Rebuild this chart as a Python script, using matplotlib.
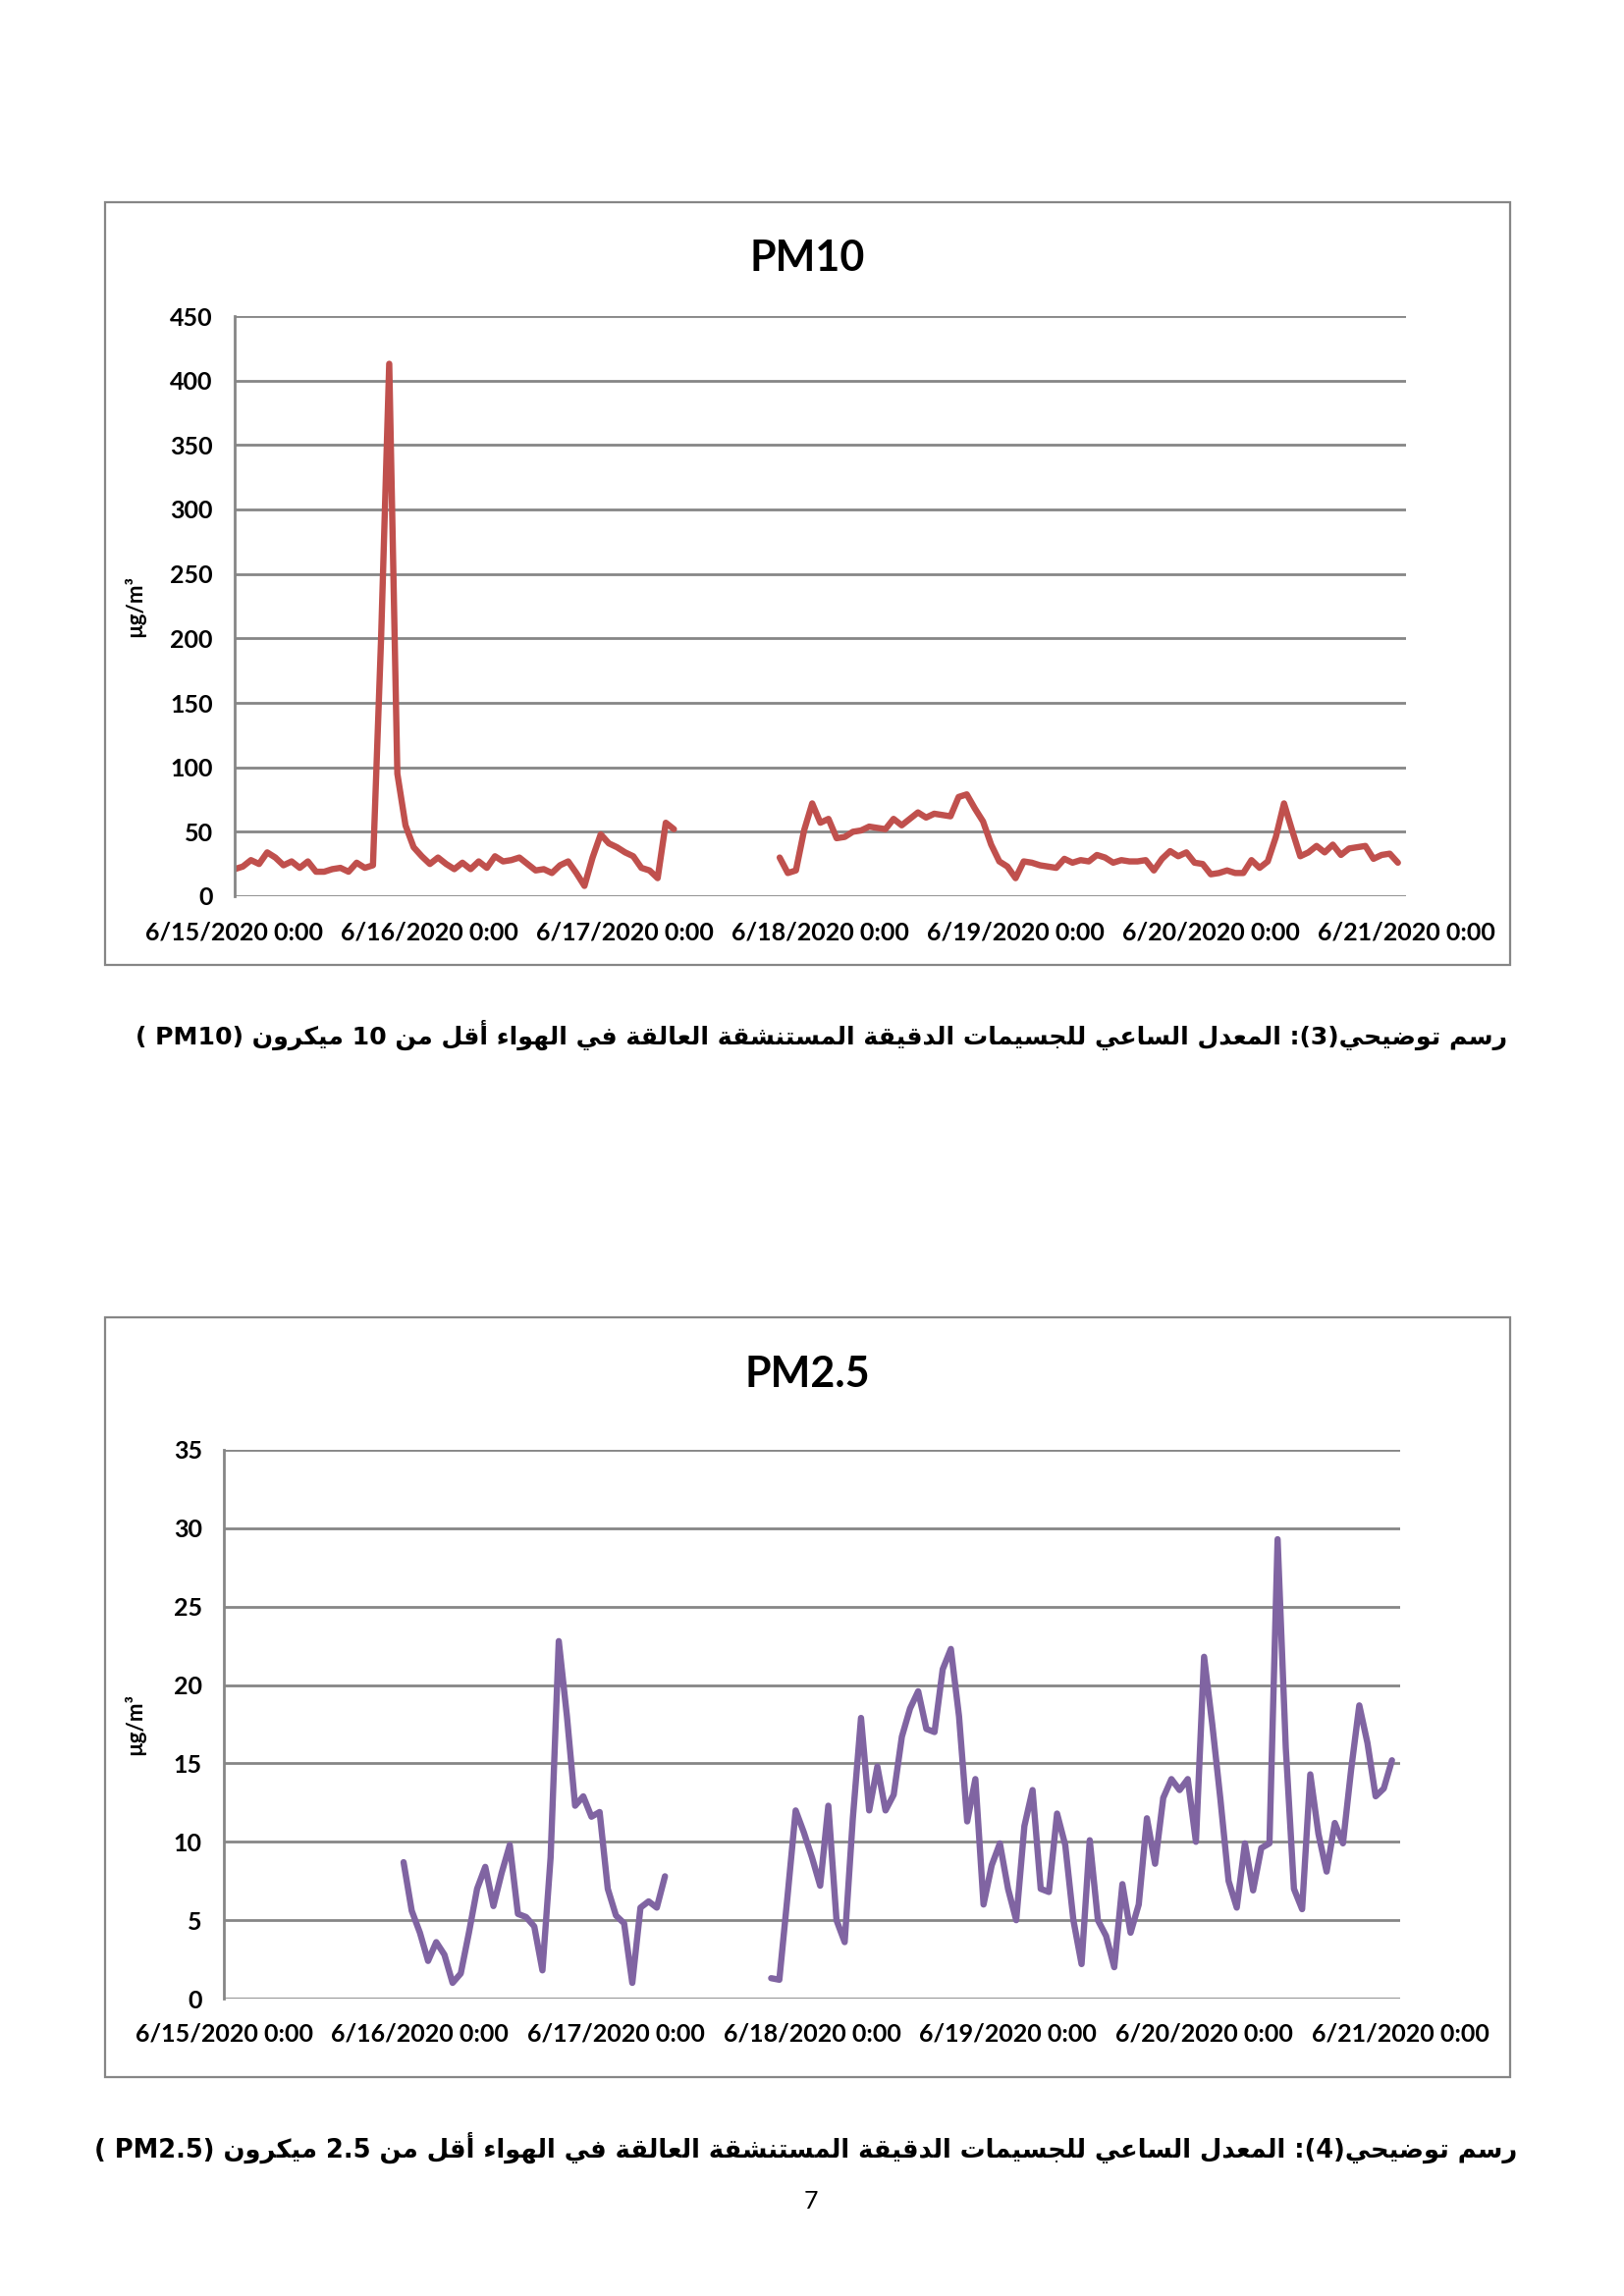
import numpy as np
import pandas as pd
import matplotlib
matplotlib.use('Agg')
from matplotlib import pyplot as plt
from matplotlib.patches import Rectangle

nan = np.nan

# hourly values, 6/15/2020 0:00 .. 6/20/2020 23:00
pm10 = [21, 23, 28, 25, 34, 30, 24, 27, 22, 27, 19, 19, 21, 22, 19, 26, 22, 24,
        200, 413, 95, 55, 38, 31,
        25, 30, 25, 21, 26, 21, 27, 22, 31, 27, 28, 30, 25, 20, 21, 18, 24, 27,
        18, 8, 30, 48, 41, 38,
        34, 31, 22, 20, 14, 57, 52, nan, nan, nan, nan, nan, nan, nan, nan, nan,
        nan, nan, nan, 30, 18, 20, 51, 72,
        57, 60, 45, 46, 50, 51, 54, 53, 52, 60, 55, 60, 65, 61, 64, 63, 62, 77,
        79, 68, 58, 40, 27, 23,
        14, 27, 26, 24, 23, 22, 29, 26, 28, 27, 32, 30, 26, 28, 27, 27, 28, 20,
        29, 35, 31, 34, 26, 25,
        17, 18, 20, 18, 18, 28, 22, 27, 46, 72, 51, 31, 34, 39, 34, 40, 32, 37,
        38, 39, 29, 32, 33, 26]

pm25 = [nan] * 22 + [
        8.7, 5.6,
        4.2, 2.4, 3.6, 2.8, 1.0, 1.6, 4.2, 7.0, 8.4, 5.9, 8.0, 9.8, 5.4, 5.2,
        4.6, 1.8, 9.0, 22.8, 18.0, 12.3, 12.9, 11.6, 11.9, 7.0,
        5.3, 4.8, 1.0, 5.8, 6.2, 5.8, 7.8, nan, nan, nan, nan, nan, nan, nan,
        nan, nan, nan, nan, nan, 1.3, 1.2, 6.5, 12.0, 10.6,
        9.0, 7.2, 12.3, 5.0, 3.6, 11.5, 17.9, 12.0, 14.8, 12.0, 13.0, 16.7,
        18.5, 19.6, 17.2, 17.0, 21.0, 22.3, 18.0, 11.3, 14.0, 6.0, 8.5, 9.9,
        7.0, 5.0, 11.0, 13.3, 7.0, 6.8, 11.8, 9.8, 5.0, 2.2, 10.1, 5.0,
        4.0, 2.0, 7.3, 4.2, 6.0, 11.5, 8.6, 12.8, 14.0, 13.3, 14.0, 10.0,
        21.8, 17.5, 12.7, 7.5, 5.8, 9.9, 6.9, 9.6, 9.9, 29.3, 16.0, 7.0,
        5.7, 14.3, 10.5, 8.1, 11.2, 9.9, 14.6, 18.7, 16.3, 12.9, 13.4, 15.2]

day_labels = ['6/15/2020 0:00', '6/16/2020 0:00', '6/17/2020 0:00', '6/18/2020 0:00',
              '6/19/2020 0:00', '6/20/2020 0:00', '6/21/2020 0:00']

caption1 = 'رسم توضيحي(3): المعدل الساعي للجسيمات الدقيقة المستنشقة العالقة في الهواء أقل من 10 ميكرون (PM10 )'
caption2 = 'رسم توضيحي(4): المعدل الساعي للجسيمات الدقيقة المستنشقة العالقة في الهواء أقل من 2.5 ميكرون (PM2.5 )'

# ---- minimal arabic shaping (no reshaper available) ----
FORMS = {
    'ء': ('\uFE80', None, None, None),
    'أ': ('\uFE83', '\uFE84', None, None),
    'ا': ('\uFE8D', '\uFE8E', None, None),
    'ب': ('\uFE8F', '\uFE90', '\uFE91', '\uFE92'),
    'ة': ('\uFE93', '\uFE94', None, None),
    'ت': ('\uFE95', '\uFE96', '\uFE97', '\uFE98'),
    'ج': ('\uFE9D', '\uFE9E', '\uFE9F', '\uFEA0'),
    'ح': ('\uFEA1', '\uFEA2', '\uFEA3', '\uFEA4'),
    'د': ('\uFEA9', '\uFEAA', None, None),
    'ر': ('\uFEAD', '\uFEAE', None, None),
    'س': ('\uFEB1', '\uFEB2', '\uFEB3', '\uFEB4'),
    'ش': ('\uFEB5', '\uFEB6', '\uFEB7', '\uFEB8'),
    'ض': ('\uFEBD', '\uFEBE', '\uFEBF', '\uFEC0'),
    'ع': ('\uFEC9', '\uFECA', '\uFECB', '\uFECC'),
    'ف': ('\uFED1', '\uFED2', '\uFED3', '\uFED4'),
    'ق': ('\uFED5', '\uFED6', '\uFED7', '\uFED8'),
    'ك': ('\uFED9', '\uFEDA', '\uFEDB', '\uFEDC'),
    'ل': ('\uFEDD', '\uFEDE', '\uFEDF', '\uFEE0'),
    'م': ('\uFEE1', '\uFEE2', '\uFEE3', '\uFEE4'),
    'ن': ('\uFEE5', '\uFEE6', '\uFEE7', '\uFEE8'),
    'ه': ('\uFEE9', '\uFEEA', '\uFEEB', '\uFEEC'),
    'و': ('\uFEED', '\uFEEE', None, None),
    'ي': ('\uFEF1', '\uFEF2', '\uFEF3', '\uFEF4'),
}
LAMALEF = {'ا': ('\uFEFB', '\uFEFC'), 'أ': ('\uFEF7', '\uFEF8')}
MIRROR = {'(': ')', ')': '('}


def joins_left(c):
    return c in FORMS and FORMS[c][2] is not None


def shape(text):
    out = []
    i = 0
    while i < len(text):
        c = text[i]
        prev = text[i - 1] if i > 0 else ''
        nxt = text[i + 1] if i + 1 < len(text) else ''
        if c not in FORMS:
            out.append(c)
            i += 1
            continue
        pj = joins_left(prev)
        if c == 'ل' and nxt in LAMALEF:
            out.append(LAMALEF[nxt][1 if pj else 0])
            i += 2
            continue
        nj = joins_left(c) and nxt in FORMS
        iso, fin, ini, med = FORMS[c]
        if pj and nj:
            out.append(med)
        elif pj:
            out.append(fin)
        elif nj:
            out.append(ini)
        else:
            out.append(iso)
        i += 1
    # visual order: reverse, keep latin/digit runs left to right
    rev = ''.join(out)[::-1]
    res, run = [], ''
    for ch in rev:
        if ch.isascii() and (ch.isalnum() or ch == '.'):
            run += ch
        else:
            if run:
                res.append(run[::-1])
                run = ''
            res.append(MIRROR.get(ch, ch))
    if run:
        res.append(run[::-1])
    return ''.join(res)


W, H = 1654, 2339
fig = plt.figure(figsize=(W / 100, H / 100), dpi=100)
fig.patch.set_facecolor('white')

hours = pd.date_range('2020-06-15 00:00', periods=144, freq='h')
days = pd.date_range('2020-06-15', periods=7, freq='D')

grid_c = '#868686'
tick_font = dict(family='Lato', weight='bold', size=18)


def box(x0, y0, x1, y1):
    fig.add_artist(Rectangle((x0 / W, 1 - y1 / H), (x1 - x0) / W, (y1 - y0) / H,
                             transform=fig.transFigure, fill=False,
                             edgecolor=grid_c, linewidth=1.6))


def chart(px, vals, ymax, ystep, color, title, title_y, frame):
    x0, y_top, x1, y_bot = px
    box(*frame)
    ax = fig.add_axes([x0 / W, 1 - y_bot / H, (x1 - x0) / W, (y_bot - y_top) / H])
    ax.plot(hours, vals, color=color, linewidth=4.6, solid_joinstyle='round',
            solid_capstyle='round')
    ax.set_xlim(days[0], days[-1])
    ax.set_ylim(0, ymax)
    ax.set_yticks(np.arange(0, ymax + 1, ystep))
    ax.set_xticks(days)
    ax.set_xticklabels(day_labels)
    for lab in ax.get_xticklabels() + ax.get_yticklabels():
        lab.set_fontproperties(matplotlib.font_manager.FontProperties(**tick_font))
    ax.tick_params(axis='y', length=0, pad=16)
    ax.tick_params(axis='x', length=0, pad=18)
    ax.yaxis.grid(True, color=grid_c, linewidth=2.0)
    ax.set_axisbelow(True)
    for s in ['top', 'right', 'bottom']:
        ax.spines[s].set_visible(False)
    ax.spines['left'].set_color(grid_c)
    ax.spines['left'].set_linewidth(2.0)
    fig.text(822 / W, 1 - title_y / H, title, ha='center', va='center',
             family='Lato', weight='bold', size=31)
    fig.text(137 / W, 1 - (y_top + y_bot) / 2 / H, 'µg/m³', rotation=90,
             ha='center', va='center', family='Lato', weight='bold', size=16)
    return ax


chart((239, 322, 1432, 913), pm10, 450, 50, '#C0504D', 'PM10', 263,
      (107, 206, 1538, 983))
chart((228, 1477, 1426, 2036), pm25, 35, 5, '#8064A2', 'PM2.5', 1400,
      (107, 1342, 1538, 2116))


def caption(text, x_right, y, width):
    t = fig.text(x_right / W, 1 - y / H, shape(text), ha='right', va='center',
                 family='DejaVu Sans', weight='bold', size=20)
    fig.canvas.draw()
    w = t.get_window_extent().width
    t.set_fontsize(20 * width / w)


caption(caption1, 1535, 1054, 1392)
caption(caption2, 1545, 2188, 1447)

fig.text(826 / W, 1 - 2242 / H, '7', ha='center', va='center', family='Lato', size=18)

fig.savefig('out.png', dpi=100, facecolor='white')
